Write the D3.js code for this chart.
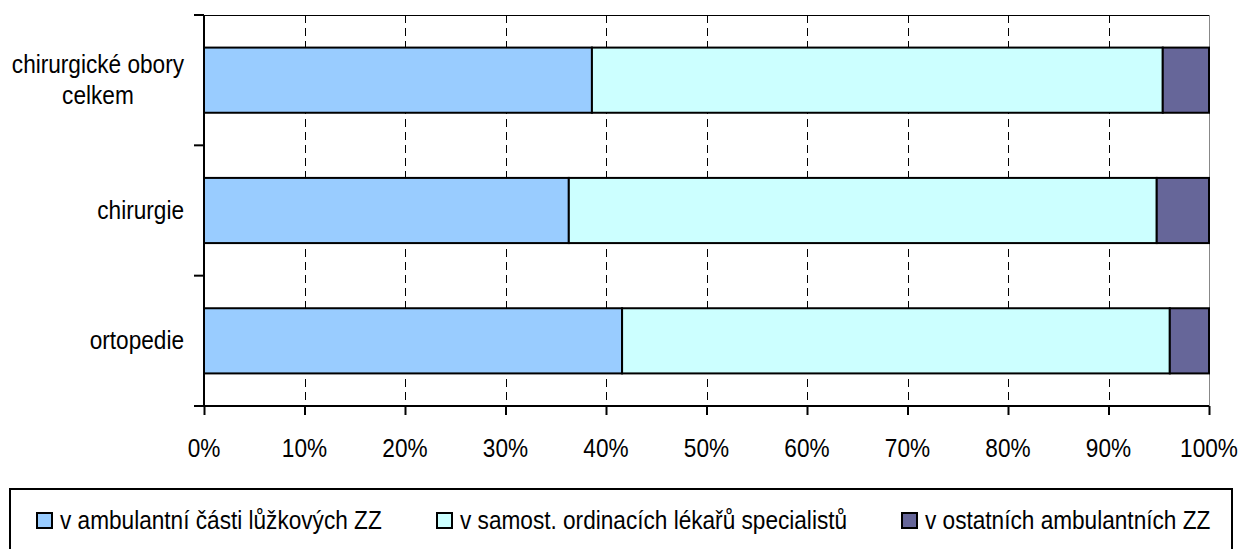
<!DOCTYPE html>
<html><head><meta charset="utf-8">
<script src="https://cdn.jsdelivr.net/npm/d3@7"></script>
<style>
body{margin:0;background:#fff;}
text{font-family:"Liberation Sans",Arial,sans-serif;fill:#000;}
</style></head><body>
<svg id="c" width="1240" height="549"></svg>
<script>
const categories = ["chirurgické obory celkem", "chirurgie", "ortopedie"];
const seriesNames = ["v ambulantní části lůžkových ZZ", "v samost. ordinacích lékařů specialistů", "v ostatních ambulantních ZZ"];
const ambulantniLuzkove = [38.6, 36.3, 41.6];
const samostOrdinace = [56.8, 58.5, 54.5];
const ostatni = [4.6, 5.2, 3.9];
const colors = ["#99CCFF", "#CCFFFF", "#666699"];
const xTicks = [0,10,20,30,40,50,60,70,80,90,100];

const FS = 26, SX = 0.87;
const svg = d3.select("#c");
const L = 204, R = 1209, T = 15, B = 406;
const x = d3.scaleLinear().domain([0,100]).range([L,R]);
const y = d3.scaleBand().domain(categories).range([T,B]).paddingInner(0.5).paddingOuter(0.25);
const yb = d3.scaleBand().domain(categories).range([T,B]);

function narrowText(g, tx, ty, str, anchor){
  return g.append("text").attr("transform",`translate(${tx},${ty}) scale(${SX},1)`)
    .attr("text-anchor",anchor||"start").attr("font-size",FS).text(str);
}

// gridlines
svg.append("g").selectAll("line").data(xTicks.slice(1)).join("line")
  .attr("x1", d=>Math.round(x(d))+0.5).attr("x2", d=>Math.round(x(d))+0.5).attr("y1", T).attr("y2", B)
  .attr("stroke","#000").attr("stroke-width",1).attr("stroke-dasharray","8,5");
// top border & right border
svg.append("line").attr("x1",L).attr("x2",R).attr("y1",T+0.5).attr("y2",T+0.5).attr("stroke","#000").attr("stroke-width",1);
svg.append("line").attr("x1",R+0.5).attr("x2",R+0.5).attr("y1",T).attr("y2",B).attr("stroke","#888").attr("stroke-width",1);

// bars
const data = categories.map((c,i)=>({c, v:[ambulantniLuzkove[i], samostOrdinace[i], ostatni[i]]}));
const stackData = data.map(d=>{let acc=0; return d.v.map((v,k)=>{const s=acc; acc+=v; return {c:d.c,k,x0:s,x1:acc};});}).flat();
svg.append("g").selectAll("rect").data(stackData).join("rect")
  .attr("x", d=>x(d.x0)).attr("width", d=>x(d.x1)-x(d.x0))
  .attr("y", d=>y(d.c)).attr("height", y.bandwidth())
  .attr("fill", d=>colors[d.k]).attr("stroke","#000").attr("stroke-width",2);

// x axis
const xa = svg.append("g").attr("transform",`translate(0,${B})`)
  .call(d3.axisBottom(x).tickValues(xTicks).tickFormat("").tickSize(9));
xa.select(".domain").attr("stroke","#000").attr("stroke-width",2).attr("d",`M${L-10},0H${R}`);
xa.selectAll(".tick line").attr("stroke","#000").attr("stroke-width",2);
const xl = svg.append("g");
xTicks.forEach(t=>narrowText(xl, x(t), 457, t+"%", "middle"));

// y axis
svg.append("line").attr("x1",L).attr("x2",L).attr("y1",T).attr("y2",B).attr("stroke","#000").attr("stroke-width",2);
const yTickPos = categories.map(c=>yb(c)).concat([B]);
svg.append("g").selectAll("line").data(yTickPos).join("line")
  .attr("x1",L-10).attr("x2",L).attr("y1",d=>d).attr("y2",d=>d).attr("stroke","#000").attr("stroke-width",2);

// y labels: block right-aligned, lines centered in block
const labelLines = {"chirurgické obory celkem":["chirurgické obory","celkem"]};
const yl = svg.append("g");
const LINE = 31, RIGHT = 184;
categories.forEach(c=>{
  const lines = labelLines[c] || [c];
  const cy = y(c)+y.bandwidth()/2;
  const texts = lines.map((ln,i)=>narrowText(yl, 0, cy - (lines.length-1)*LINE/2 + i*LINE + 8.5, ln, "middle"));
  const w = d3.max(texts, t=>t.node().getComputedTextLength()*SX);
  texts.forEach((t,i)=>t.attr("transform",`translate(${RIGHT - w/2},${cy - (lines.length-1)*LINE/2 + i*LINE + 8.5}) scale(${SX},1)`));
});

// legend
svg.append("rect").attr("x",10).attr("y",489).attr("width",1222).attr("height",80)
  .attr("fill","#fff").attr("stroke","#000").attr("stroke-width",2);
const legX = [36, 436, 901];
const lg = svg.append("g");
seriesNames.forEach((s,i)=>{
  lg.append("rect").attr("x",legX[i]+1).attr("y",513).attr("width",15).attr("height",15)
    .attr("fill",colors[i]).attr("stroke","#000").attr("stroke-width",2);
  narrowText(lg, legX[i]+24, 529, s, "start");
});
</script>
</body></html>
